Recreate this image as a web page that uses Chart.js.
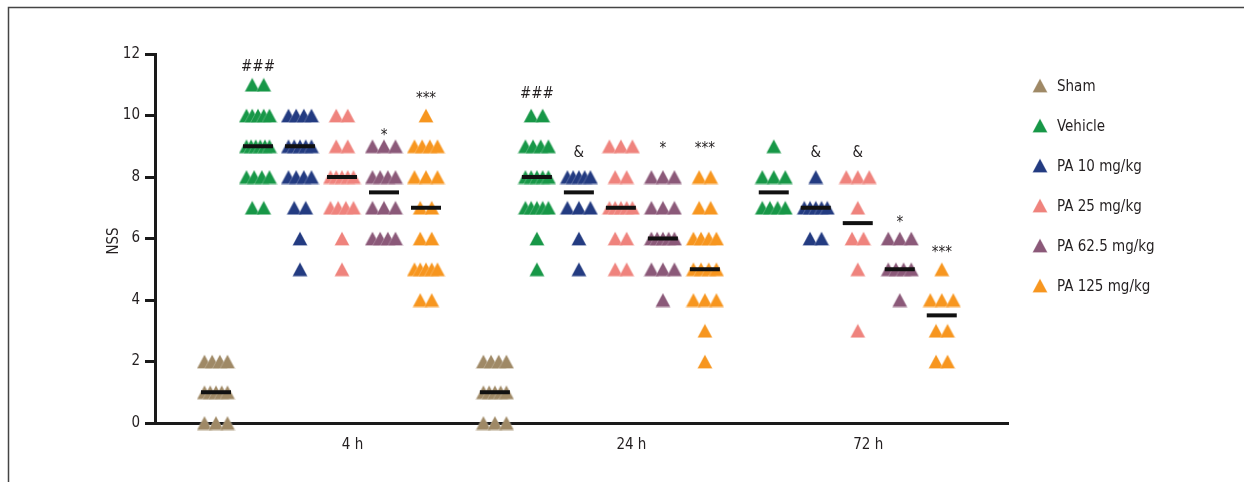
<!DOCTYPE html>
<html>
<head>
<meta charset="utf-8">
<script src="https://cdn.jsdelivr.net/npm/chart.js@4.4.1/dist/chart.umd.min.js"></script>
<style>
  html, body { margin: 0; padding: 0; background: #fff; }
  #wrap { position: relative; width: 1244px; height: 482px; }
</style>
</head>
<body>
<div id="wrap"><canvas id="c" width="1244" height="482"></canvas></div>
<script>
const TIMEPOINTS = ['4 h', '24 h', '72 h'];
const SERIES = ['Sham', 'Vehicle', 'PA 10 mg/kg', 'PA 25 mg/kg', 'PA 62.5 mg/kg', 'PA 125 mg/kg'];
const COLORS = ['#9f8966', '#179747', '#233b81', '#ef837d', '#8b5979', '#f7961f'];

// NSS score of each animal, per time point (null = group not shown)
const SHAM = [
  [2, 2, 2, 2, 1, 1, 1, 1, 1, 0, 0, 0],
  [2, 2, 2, 2, 1, 1, 1, 1, 1, 0, 0, 0],
  null
];
const VEHICLE = [
  [11, 11, 10, 10, 10, 10, 10, 9, 9, 9, 9, 9, 9, 8, 8, 8, 8, 7, 7],
  [10, 10, 9, 9, 9, 9, 8, 8, 8, 8, 8, 7, 7, 7, 7, 7, 6, 5],
  [9, 8, 8, 8, 7, 7, 7, 7]
];
const PA10 = [
  [10, 10, 10, 10, 9, 9, 9, 9, 9, 8, 8, 8, 8, 7, 7, 6, 5],
  [8, 8, 8, 8, 8, 7, 7, 7, 6, 5],
  [8, 7, 7, 7, 7, 7, 6, 6]
];
const PA25 = [
  [10, 10, 9, 9, 8, 8, 8, 8, 8, 7, 7, 7, 7, 6, 5],
  [9, 9, 9, 8, 8, 7, 7, 7, 7, 7, 6, 6, 5, 5],
  [8, 8, 8, 7, 6, 6, 5, 3]
];
const PA62 = [
  [9, 9, 9, 8, 8, 8, 8, 7, 7, 7, 6, 6, 6, 6],
  [8, 8, 8, 7, 7, 7, 6, 6, 6, 6, 6, 5, 5, 5, 4],
  [6, 6, 6, 5, 5, 5, 5, 4]
];
const PA125 = [
  [10, 9, 9, 9, 9, 8, 8, 8, 7, 7, 6, 6, 5, 5, 5, 5, 5, 4, 4],
  [8, 8, 7, 7, 6, 6, 6, 6, 5, 5, 5, 5, 4, 4, 4, 3, 2],
  [5, 4, 4, 4, 3, 3, 2, 2]
];
const GROUPS = [SHAM, VEHICLE, PA10, PA25, PA62, PA125];

// significance marks: [time point, series, text, y]
const MARKS = [
  [0, 1, '###', 11.45], [0, 4, '*', 9.2], [0, 5, '***', 10.4],
  [1, 1, '###', 10.57], [1, 2, '&', 8.65], [1, 4, '*', 8.78], [1, 5, '***', 8.78],
  [2, 2, '&', 8.65], [2, 3, '&', 8.65], [2, 4, '*', 6.37], [2, 5, '***', 5.4]
];

const FONT = "'Liberation Sans Narrow', 'DejaVu Sans Condensed', sans-serif";
const TEXT = '#231f20';
const PX = 42;          // pixels per slot
const GROUP_GAP = 1.64; // slot distance between time groups

// slot position of every group
const slotX = TIMEPOINTS.map(() => []);
let pos = -1;
TIMEPOINTS.forEach((t, ti) => {
  let first = true;
  GROUPS.forEach((g, si) => {
    if (!g[ti]) return;
    pos += (first && ti > 0) ? GROUP_GAP : 1;
    first = false;
    slotX[ti][si] = pos;
  });
});
const tickPos = TIMEPOINTS.map((t, ti) => {
  const xs = slotX[ti].filter((v, si) => v !== undefined && si > 0);
  return xs.reduce((a, b) => a + b, 0) / xs.length + 0.25;
});

function median(arr) {
  const s = [...arr].sort((a, b) => a - b);
  const m = s.length >> 1;
  return s.length % 2 ? s[m] : (s[m - 1] + s[m]) / 2;
}

// spread equal values side by side
function spread(values, cx) {
  const counts = {};
  values.forEach(v => counts[v] = (counts[v] || 0) + 1);
  const seen = {};
  return values.map(v => {
    const n = counts[v];
    const k = seen[v] = (seen[v] || 0) + 1;
    const step = n > 1 ? Math.min(11.5, 23 / (n - 1)) : 0;
    return { x: cx + ((k - 1) - (n - 1) / 2) * step / PX, y: v };
  });
}

function triangle(color) {
  const c = document.createElement('canvas');
  c.width = 16; c.height = 15;
  const ctx = c.getContext('2d');
  ctx.beginPath();
  ctx.moveTo(8, 0.6);
  ctx.lineTo(15.5, 14.5);
  ctx.lineTo(0.5, 14.5);
  ctx.closePath();
  ctx.fillStyle = color;
  ctx.fill();
  ctx.strokeStyle = 'rgba(255,255,255,0.35)';
  ctx.lineWidth = 0.7;
  ctx.stroke();
  return c;
}
const TRI = COLORS.map(triangle);

const datasets = SERIES.map((name, si) => {
  const pts = [];
  GROUPS[si].forEach((vals, ti) => { if (vals) pts.push(...spread(vals, slotX[ti][si])); });
  return { label: name, data: pts, pointStyle: TRI[si], pointRadius: 8, clip: false, order: 1 };
});
const medians = [];
GROUPS.forEach((g, si) => g.forEach((vals, ti) => {
  if (vals) medians.push({ x: slotX[ti][si], y: median(vals) });
}));
datasets.push({
  label: 'median', data: medians, pointStyle: 'line', pointRadius: 15,
  pointBorderWidth: 4, borderColor: '#111', backgroundColor: '#111', clip: false, order: 0
});

const extras = {
  id: 'extras',
  afterDraw(chart) {
    const ctx = chart.ctx;
    const xs = chart.scales.x, ys = chart.scales.y;
    ctx.save();
    // frame
    ctx.strokeStyle = '#444';
    ctx.lineWidth = 1.5;
    ctx.beginPath();
    ctx.moveTo(1244, 7.5); ctx.lineTo(8.5, 7.5); ctx.lineTo(8.5, 482);
    ctx.stroke();
    // y title
    ctx.fillStyle = TEXT;
    ctx.font = '15px ' + FONT;
    ctx.textAlign = 'center';
    ctx.textBaseline = 'middle';
    ctx.translate(114, 241);
    ctx.rotate(-Math.PI / 2);
    ctx.fillText('NSS', 0, 0);
    ctx.restore();

    ctx.save();
    ctx.fillStyle = TEXT;
    ctx.font = '15px ' + FONT;
    ctx.textAlign = 'center';
    ctx.textBaseline = 'alphabetic';
    MARKS.forEach(([ti, si, txt, y]) => {
      ctx.fillText(txt, xs.getPixelForValue(slotX[ti][si]), ys.getPixelForValue(y));
    });
    // legend
    ctx.textAlign = 'left';
    ctx.textBaseline = 'middle';
    SERIES.forEach((name, i) => {
      const y = 86 + i * 40;
      ctx.drawImage(TRI[i], 1032, y - 8);
      ctx.fillText(name, 1057, y + 1);
    });
    ctx.restore();
  }
};

new Chart(document.getElementById('c'), {
  type: 'scatter',
  data: { datasets },
  options: {
    responsive: false,
    animation: false,
    events: [],
    layout: { padding: { left: 0, right: 236, top: 54, bottom: 0 } },
    plugins: { legend: { display: false }, tooltip: { enabled: false } },
    scales: {
      x: {
        type: 'linear',
        min: -61 / PX,
        max: -61 / PX + 853 / PX,
        afterFit: s => { s.height = 59; },
        afterBuildTicks: s => { s.ticks = tickPos.map(v => ({ value: v })); },
        grid: { display: false },
        border: { display: true, width: 3, color: '#1a1a1a' },
        ticks: {
          autoSkip: false, maxRotation: 0, padding: 5,
          color: TEXT, font: { family: FONT, size: 15 },
          callback: (v, i) => TIMEPOINTS[i]
        }
      },
      y: {
        min: 0, max: 12,
        afterFit: s => { s.width = 155; },
        grid: { drawOnChartArea: false, drawTicks: true, tickLength: 10, tickWidth: 3, tickColor: '#1a1a1a' },
        border: { display: true, width: 3, color: '#1a1a1a' },
        ticks: { stepSize: 2, padding: 5, color: TEXT, font: { family: FONT, size: 15 } }
      }
    }
  },
  plugins: [extras]
});
</script>
</body>
</html>
